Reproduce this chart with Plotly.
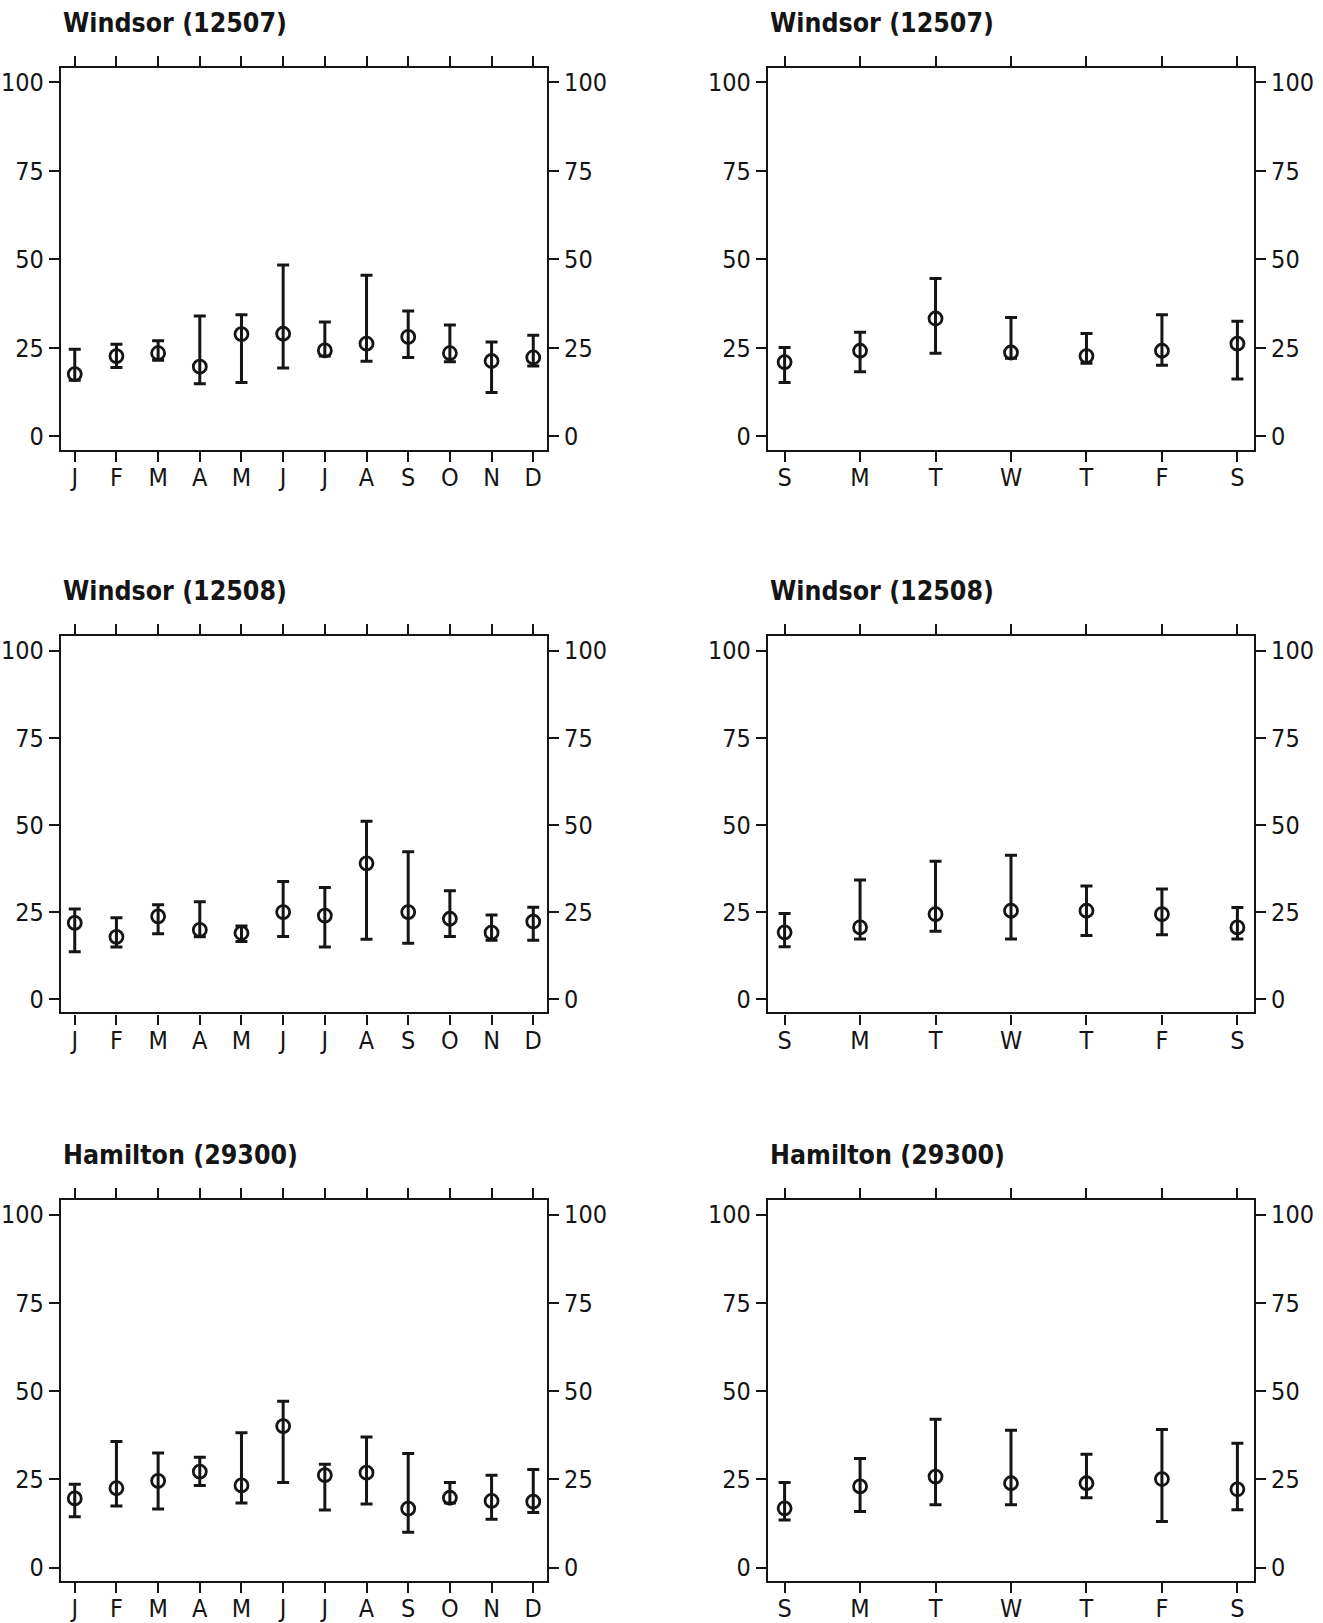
import plotly.graph_objects as go

# ---------------- data ----------------
months = ["J", "F", "M", "A", "M", "J", "J", "A", "S", "O", "N", "D"]
days = ["S", "M", "T", "W", "T", "F", "S"]
y_ticks = [0, 25, 50, 75, 100]

titles = ["Windsor (12507)", "Windsor (12507)",
          "Windsor (12508)", "Windsor (12508)",
          "Hamilton (29300)", "Hamilton (29300)"]

w07_m_mean = [17.6, 22.7, 23.5, 19.7, 28.9, 29.0, 24.3, 26.2, 28.1, 23.5, 21.3, 22.3]
w07_m_hi = [24.6, 26.0, 27.0, 34.0, 34.4, 48.4, 32.3, 45.5, 35.4, 31.5, 26.7, 28.6]
w07_m_lo = [15.9, 19.5, 21.5, 14.9, 15.2, 19.3, 22.7, 21.2, 22.3, 21.1, 12.4, 19.9]

w07_d_mean = [21.0, 24.2, 33.3, 23.7, 22.7, 24.2, 26.2]
w07_d_hi = [25.1, 29.4, 44.6, 33.6, 29.1, 34.4, 32.5]
w07_d_lo = [15.2, 18.3, 23.5, 22.1, 20.7, 20.1, 16.2]

w08_m_mean = [21.9, 17.9, 23.8, 19.9, 19.0, 25.0, 24.0, 39.0, 25.0, 23.1, 19.1, 22.3]
w08_m_hi = [25.9, 23.4, 27.1, 28.0, 21.0, 33.8, 32.1, 51.1, 42.3, 31.1, 24.2, 26.4]
w08_m_lo = [13.6, 15.0, 18.8, 17.9, 16.6, 18.0, 15.0, 17.2, 16.1, 18.0, 16.9, 16.9]

w08_d_mean = [19.2, 20.6, 24.4, 25.4, 25.4, 24.4, 20.6]
w08_d_hi = [24.6, 34.2, 39.6, 41.3, 32.5, 31.6, 26.3]
w08_d_lo = [15.1, 17.3, 19.5, 17.3, 18.3, 18.5, 17.3]

ham_m_mean = [19.6, 22.5, 24.6, 27.2, 23.3, 40.1, 26.2, 26.9, 16.7, 19.8, 18.9, 18.7]
ham_m_hi = [23.6, 35.7, 32.5, 31.3, 38.2, 47.1, 29.3, 37.0, 32.3, 24.1, 26.2, 27.8]
ham_m_lo = [14.4, 17.5, 16.6, 23.3, 18.3, 24.1, 16.3, 18.0, 10.0, 18.3, 13.7, 15.6]

ham_d_mean = [16.8, 23.0, 25.8, 23.9, 23.9, 25.1, 22.2]
ham_d_hi = [24.1, 30.9, 42.0, 38.9, 32.1, 39.1, 35.2]
ham_d_lo = [13.5, 15.9, 17.8, 17.8, 19.8, 13.1, 16.4]

panels = [
    (months, w07_m_mean, w07_m_hi, w07_m_lo),
    (days, w07_d_mean, w07_d_hi, w07_d_lo),
    (months, w08_m_mean, w08_m_hi, w08_m_lo),
    (days, w08_d_mean, w08_d_hi, w08_d_lo),
    (months, ham_m_mean, ham_m_hi, ham_m_lo),
    (days, ham_d_mean, ham_d_hi, ham_d_lo),
]

# ---------------- layout constants ----------------
W, H = 1323, 1623
INK = "#151515"
FONT = "DejaVu Sans Condensed, Liberation Sans Narrow, sans-serif"

col_px = [(61, 547), (768, 1254)]
row_px = [(68, 451), (638, 1015), (1203, 1585)]

fig = go.Figure()
layout = dict(
    width=W, height=H,
    margin=dict(l=0, r=0, t=0, b=0),
    paper_bgcolor="white", plot_bgcolor="white",
    showlegend=False,
    font=dict(family=FONT, size=24, color=INK),
    annotations=[],
)

for k, (cats, mean, hi, lo) in enumerate(panels):
    i = k + 1
    r, c = divmod(k, 2)
    xs = list(range(len(cats)))
    xa = "x" if i == 1 else f"x{i}"
    ya = "y" if i == 1 else f"y{i}"
    yr = f"y{i + 6}"

    fig.add_trace(go.Scatter(
        x=xs, y=mean, mode="markers",
        xaxis=xa, yaxis=ya,
        marker=dict(symbol="circle-open", size=13, color=INK,
                    line=dict(width=2.8, color=INK)),
        error_y=dict(type="data", symmetric=False,
                     array=[h - m for h, m in zip(hi, mean)],
                     arrayminus=[m - l for m, l in zip(mean, lo)],
                     thickness=3, width=6, color=INK),
        hoverinfo="skip",
    ))
    # invisible trace to activate the right-hand axis
    fig.add_trace(go.Scatter(x=[xs[0]], y=[mean[0]], mode="markers",
                             xaxis=xa, yaxis=yr, marker=dict(opacity=0),
                             hoverinfo="skip"))

    x0, x1 = col_px[c]
    t0, t1 = row_px[r]
    xdom = [x0 / W, x1 / W]
    ydom = [1 - t1 / H, 1 - t0 / H]
    pad = 0.33 if len(cats) > 7 else 0.22
    layout[f"xaxis{i}" if i > 1 else "xaxis"] = dict(
        domain=xdom, anchor=ya, range=[-pad, len(cats) - 1 + pad],
        tickvals=xs, ticktext=cats, ticks="outside", ticklen=10, tickwidth=1.8,
        tickcolor=INK, showline=True, linewidth=2.2, linecolor=INK,
        mirror="ticks", showgrid=False, zeroline=False, ticklabelstandoff=-6,
        tickfont=dict(size=25, family=FONT, color=INK), fixedrange=True,
    )
    ycommon = dict(
        range=[-3.8, 104.1], tickvals=y_ticks, ticks="outside", ticklen=10,
        tickwidth=1.8, tickcolor=INK, showline=True, linewidth=2.2, linecolor=INK,
        showgrid=False, zeroline=False,
        tickfont=dict(size=25, family=FONT, color=INK), fixedrange=True,
    )
    layout[f"yaxis{i}" if i > 1 else "yaxis"] = dict(
        domain=ydom, anchor=xa, side="left", **ycommon)
    layout[f"yaxis{i + 6}"] = dict(
        overlaying=ya, anchor=xa, side="right", **ycommon)

    layout["annotations"].append(dict(
        text=f"<b>{titles[k]}</b>", showarrow=False,
        xref=f"{xa} domain", yref=f"{ya} domain",
        x=0, y=1, xanchor="left", yanchor="bottom", yshift=28,
        font=dict(size=26.5, family=FONT, color=INK),
    ))

fig.update_layout(**layout)
fig.write_html("out.html", config={"displayModeBar": False},
               post_script="document.body.style.margin='0';document.body.style.overflow='hidden';")
